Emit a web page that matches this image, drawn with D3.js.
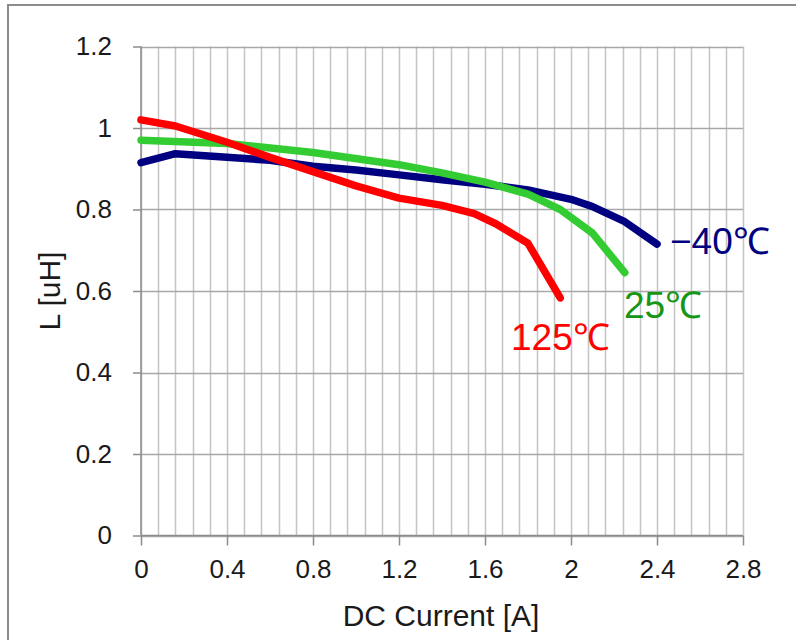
<!DOCTYPE html>
<html>
<head>
<meta charset="utf-8">
<script src="https://cdn.jsdelivr.net/npm/d3@7"></script>
<style>
  body { margin: 0; background: #fff; }
  text { font-family: "Liberation Sans", Arial, sans-serif; }
</style>
</head>
<body>
<div id="chart"></div>
<script>
// inductance vs DC current
var currentM40 = [0, 0.16, 0.4, 0.6, 0.8, 1.0, 1.2, 1.4, 1.6, 1.8, 2.0, 2.1, 2.25, 2.4],
    inductM40  = [0.915, 0.937, 0.928, 0.921, 0.906, 0.897, 0.885, 0.873, 0.862, 0.848, 0.825, 0.807, 0.77, 0.715];

var current25 = [0, 0.4, 0.8, 1.2, 1.4, 1.6, 1.8, 1.95, 2.1, 2.25],
    induct25  = [0.97, 0.962, 0.94, 0.91, 0.89, 0.867, 0.838, 0.8, 0.742, 0.645];

var current125 = [0, 0.16, 0.4, 0.6, 0.8, 1.0, 1.2, 1.4, 1.55, 1.65, 1.8, 1.95],
    induct125  = [1.02, 1.005, 0.965, 0.928, 0.893, 0.858, 0.828, 0.81, 0.79, 0.765, 0.717, 0.583];

var xTicks = [0, 0.4, 0.8, 1.2, 1.6, 2, 2.4, 2.8],
    yTicks = [0, 0.2, 0.4, 0.6, 0.8, 1, 1.2],
    minorStep = 0.08;

var series = [
  {name: "−40℃", color: "#000080", textColor: "#000080", xs: currentM40, ys: inductM40, lx: 670, ly: 254},
  {name: "25℃",  color: "#33cc33", textColor: "#159615", xs: current25,  ys: induct25,  lx: 624, ly: 318},
  {name: "125℃", color: "#ff0000", textColor: "#ff0000", xs: current125, ys: induct125, lx: 511, ly: 350}
];

var width = 796, height = 640;

var svg = d3.select("#chart").append("svg")
    .attr("width", width)
    .attr("height", height);

// outer frame (runs off the picture to the right and bottom)
svg.append("rect")
    .attr("x", 8).attr("y", 5)
    .attr("width", 900).attr("height", 900)
    .attr("fill", "none")
    .attr("stroke", "#8c8c8c")
    .attr("stroke-width", 2);

var x = d3.scaleLinear()
    .domain([0, 2.8])
    .range([141, 743]);

var y = d3.scaleLinear()
    .domain([0, 1.2])
    .range([535.5, 46.5]);

// minor vertical grid
var minor = d3.range(0, 2.8 + 1e-9, minorStep);
svg.append("g").selectAll("line")
    .data(minor)
  .enter().append("line")
    .attr("x1", function(d) {return Math.round(x(d)) + 0.5})
    .attr("x2", function(d) {return Math.round(x(d)) + 0.5})
    .attr("y1", y(1.2))
    .attr("y2", y(0))
    .attr("stroke", "#c4c4c4")
    .attr("stroke-width", 1.5);

// horizontal grid
svg.append("g").selectAll("line")
    .data(yTicks)
  .enter().append("line")
    .attr("x1", x(0))
    .attr("x2", x(2.8))
    .attr("y1", function(d) {return Math.round(y(d)) + 0.5})
    .attr("y2", function(d) {return Math.round(y(d)) + 0.5})
    .attr("stroke", "#a8a8a8")
    .attr("stroke-width", 1.5);

// axes
var yAxis = d3.axisLeft(y)
    .tickValues(yTicks)
    .tickFormat(d3.format("~g"))
    .tickSize(8)
    .tickPadding(21);

var xAxis = d3.axisBottom(x)
    .tickValues(xTicks)
    .tickFormat(d3.format("~g"))
    .tickSize(10)
    .tickPadding(14);

var gy = svg.append("g")
    .attr("transform", "translate(" + x(0) + ",0)")
    .call(yAxis);

var gx = svg.append("g")
    .attr("transform", "translate(0," + y(0) + ")")
    .call(xAxis);

[gx, gy].forEach(function(g) {
    g.select(".domain").attr("stroke", "#8c8c8c").attr("stroke-width", 1.5);
    g.selectAll(".tick line").attr("stroke", "#8c8c8c").attr("stroke-width", 1.5);
    g.selectAll(".tick text")
        .attr("fill", "#1a1a1a")
        .style("font-size", "26px")
        .style("font-family", "'Liberation Sans', Arial, sans-serif");
});
gx.select(".domain").attr("d", "M" + x(0) + ",0H" + x(2.8));
gy.select(".domain").attr("d", "M0," + y(0) + "V" + y(1.2));

// axis titles
svg.append("text")
    .attr("x", 441)
    .attr("y", 626)
    .attr("text-anchor", "middle")
    .attr("fill", "#1a1a1a")
    .style("font-size", "30px")
    .text("DC Current [A]");

svg.append("text")
    .attr("transform", "translate(60,291) rotate(-90)")
    .attr("text-anchor", "middle")
    .attr("fill", "#1a1a1a")
    .style("font-size", "30px")
    .text("L [uH]");

// curves
var line = d3.line()
    .x(function(d) {return x(d[0])})
    .y(function(d) {return y(d[1])});

svg.append("g").selectAll("path")
    .data(series)
  .enter().append("path")
    .attr("d", function(s) {return line(d3.zip(s.xs, s.ys))})
    .attr("fill", "none")
    .attr("stroke", function(s) {return s.color})
    .attr("stroke-width", 7.5)
    .attr("stroke-linecap", "round")
    .attr("stroke-linejoin", "round");

// temperature labels
svg.append("g").selectAll("text")
    .data(series)
  .enter().append("text")
    .attr("x", function(s) {return s.lx})
    .attr("y", function(s) {return s.ly})
    .attr("fill", function(s) {return s.textColor})
    .style("font-size", "37px")
    .text(function(s) {return s.name});
</script>
</body>
</html>
